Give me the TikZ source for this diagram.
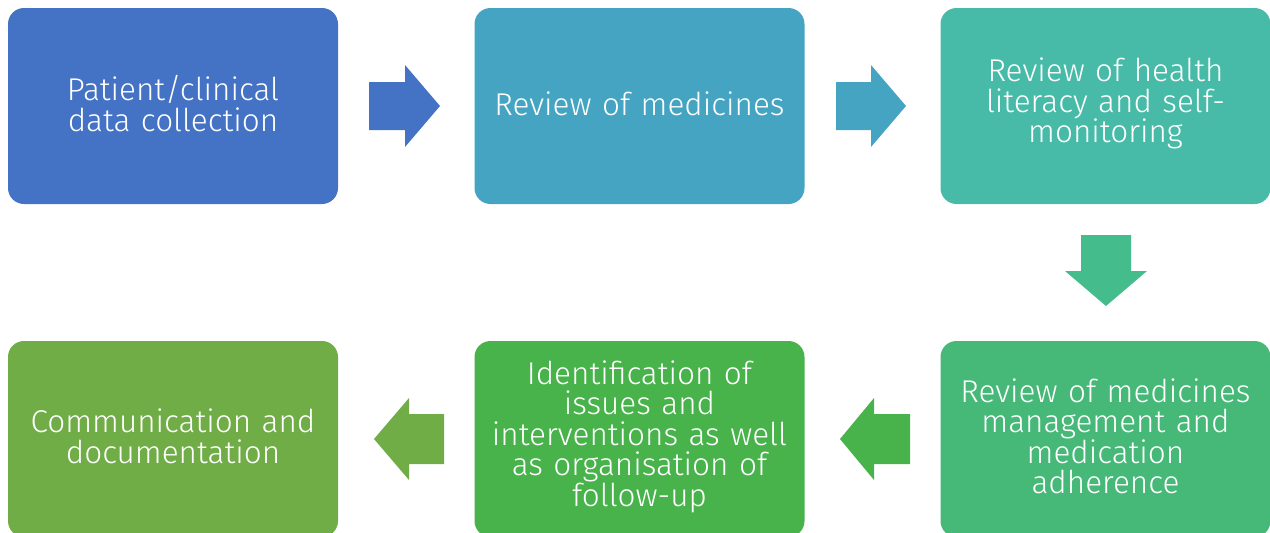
\documentclass[tikz,border=0pt]{standalone}
\usepackage{fontspec}
\setmainfont{Fira Sans}[UprightFont=* Light]
\definecolor{cA}{HTML}{4472C4}
\definecolor{cB}{HTML}{44A4C2}
\definecolor{cC}{HTML}{47BBA8}
\definecolor{cD}{HTML}{45BC8B}
\definecolor{cE}{HTML}{46B877}
\definecolor{cF}{HTML}{48B24B}
\definecolor{cG}{HTML}{70AD47}
\tikzset{
  stagebox/.style={rectangle, rounded corners=16pt, minimum width=330pt, minimum height=196pt,
    inner sep=4pt, text width=322pt, align=center, text=white,
    font=\fontsize{31.5}{30.5}\selectfont,
    execute at end node={\par\kern5pt}},
}
\begin{document}
\begin{tikzpicture}[x=1pt,y=-1pt]
\useasboundingbox (0,0) rectangle (1270,533);
\node[stagebox, fill=cA] (b1) at (173,106) {Patient/clinical\\data collection};
\node[stagebox, fill=cB] (b2) at (639.5,106) {Review of medicines};
\node[stagebox, fill=cC] (b3) at (1105.5,106) {Review of health\\literacy and self-\\monitoring};
\node[stagebox, fill=cE] (b4) at (1105.5,439) {Review of medicines\\management and\\medication\\adherence};
\node[stagebox, fill=cF] (b5) at (639.5,439) {Identification of\\issues and\\interventions as well\\as organisation of\\follow-up};
\node[stagebox, fill=cG] (b6) at (173,439) {Communication and\\documentation};
% block arrows
\fill[cA] (369,82) -- (405,82) -- (405,65) -- (440,106) -- (405,147) -- (405,130) -- (369,130) -- cycle;
\fill[cB] (836,82) -- (871,82) -- (871,65) -- (906,106) -- (871,147) -- (871,130) -- (836,130) -- cycle;
\fill[cD] (1081,235) -- (1131,235) -- (1131,271) -- (1147,271) -- (1106,306) -- (1065,271) -- (1081,271) -- cycle;
\fill[cF] (910,414) -- (874,414) -- (874,398) -- (840,439) -- (874,480) -- (874,464) -- (910,464) -- cycle;
\fill[cG] (444,414) -- (409,414) -- (409,398) -- (374,439) -- (409,480) -- (409,464) -- (444,464) -- cycle;
\end{tikzpicture}
\end{document}
